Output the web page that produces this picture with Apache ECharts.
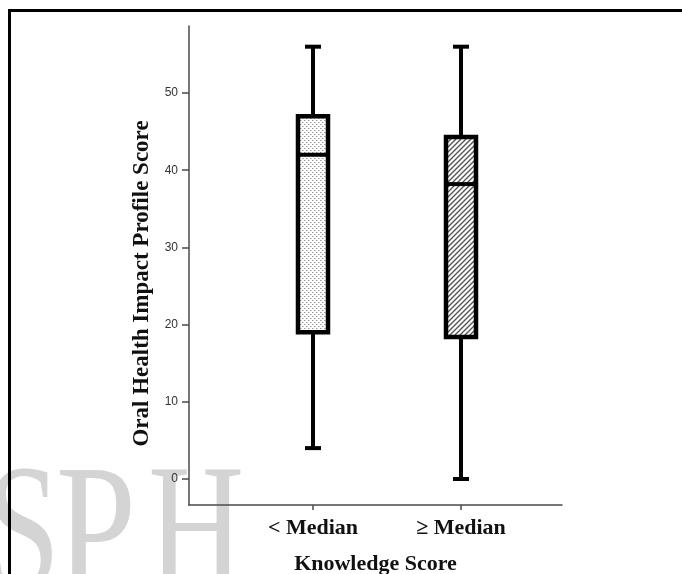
<!DOCTYPE html>
<html>
<head>
<meta charset="utf-8">
<script src="https://cdn.jsdelivr.net/npm/echarts@6/dist/echarts.min.js"></script>
<style>
  html, body { margin: 0; padding: 0; background: #fff; }
  #chart { width: 682px; height: 574px; }
</style>
</head>
<body>
<div id="chart"></div>
<script>
// data
var categories = ['< Median', '≥ Median'];
var mins    = [4, 0];
var q1s     = [19, 18.4];
var medians = [42, 38.2];
var q3s     = [47, 44.3];
var maxs    = [56, 56];
var yTicks  = [0, 10, 20, 30, 40, 50];

// fill patterns: dotted for the first box, hatched for the second
function dotPattern() {
    var c = document.createElement('canvas');
    c.width = 4; c.height = 4;
    var ctx = c.getContext('2d');
    ctx.fillStyle = '#fff';
    ctx.fillRect(0, 0, 4, 4);
    ctx.fillStyle = '#9a9a9a';
    ctx.fillRect(0, 0, 1, 1);
    ctx.fillRect(2, 2, 1, 1);
    ctx.fillStyle = '#cfcfcf';
    ctx.fillRect(1, 0, 1, 1);
    ctx.fillRect(3, 2, 1, 1);
    return c;
}
function hatchPattern() {
    var c = document.createElement('canvas');
    c.width = 5; c.height = 5;
    var ctx = c.getContext('2d');
    ctx.fillStyle = '#fff';
    ctx.fillRect(0, 0, 5, 5);
    ctx.strokeStyle = '#555';
    ctx.lineWidth = 1.4;
    ctx.beginPath();
    ctx.moveTo(-1, 6); ctx.lineTo(6, -1);
    ctx.moveTo(-1, 1); ctx.lineTo(1, -1);
    ctx.moveTo(4, 6); ctx.lineTo(6, 4);
    ctx.stroke();
    return c;
}
var fills = [
    {image: dotPattern(), repeat: 'repeat'},
    {image: hatchPattern(), repeat: 'repeat'}
];

var boxData = [];
categories.forEach(function(cat, i) {
    boxData.push([i + 1, mins[i], q1s[i], medians[i], q3s[i], maxs[i]]);
});

var serifBold = {fontFamily: 'Liberation Serif', fontWeight: 'bold', color: '#111'};
var wmFont = '180px "Liberation Serif"';

var chart = echarts.init(document.getElementById('chart'));
var option = {
    animation: false,
    backgroundColor: '#fff',
    grid: {left: 189, right: 120, top: 26, bottom: 69, outerBoundsMode: 'none', containLabel: false},
    graphic: [
        {type: 'rect', z: 100, silent: true,
         shape: {x: 9.5, y: 10.5, width: 800, height: 700},
         style: {fill: 'none', stroke: '#000', lineWidth: 3}},
        {type: 'text', z: -10, left: -14, top: 451, scaleX: 0.74,
         style: {text: 'S', font: wmFont, fill: '#d4d4d4'}},
        {type: 'text', z: -10, left: 56, top: 451, scaleX: 0.8,
         style: {text: 'P', font: wmFont, fill: '#d4d4d4'}},
        {type: 'text', z: -10, left: 148, top: 451, scaleX: 0.74,
         style: {text: 'H', font: wmFont, fill: '#d4d4d4'}}
    ],
    xAxis: {
        type: 'value',
        min: 0.1622,
        max: 2.6824,
        name: 'Knowledge Score',
        nameLocation: 'middle',
        nameGap: 48,
        nameTextStyle: Object.assign({fontSize: 22}, serifBold),
        axisLine: {onZero: false, lineStyle: {color: '#4a4a4a', width: 1.5}},
        axisTick: {show: true, length: 5, customValues: [1, 2], lineStyle: {color: '#4a4a4a', width: 1.5}},
        axisLabel: Object.assign({
            fontSize: 22, margin: 12, customValues: [1, 2],
            formatter: function(v) { return categories[Math.round(v) - 1] || ''; }
        }, serifBold),
        splitLine: {show: false}
    },
    yAxis: {
        type: 'value',
        min: -3.37,
        max: 58.68,
        name: 'Oral Health Impact Profile Score',
        nameLocation: 'middle',
        nameGap: 26,
        nameTextStyle: Object.assign({fontSize: 23, padding: [0, 36, 0, 0]}, serifBold),
        axisLine: {show: true, onZero: false, lineStyle: {color: '#4a4a4a', width: 1.5}},
        axisTick: {show: true, length: 7, customValues: yTicks, lineStyle: {color: '#4a4a4a', width: 1.5}},
        axisLabel: {fontSize: 12, color: '#333', margin: 11, fontFamily: 'Liberation Sans', customValues: yTicks},
        splitLine: {show: false}
    },
    series: [{
        type: 'custom',
        data: boxData,
        encode: {x: 0, y: [1, 2, 3, 4, 5]},
        renderItem: function(params, api) {
            var x = api.value(0);
            var pMin = api.coord([x, api.value(1)]);
            var pQ1 = api.coord([x, api.value(2)]);
            var pMed = api.coord([x, api.value(3)]);
            var pQ3 = api.coord([x, api.value(4)]);
            var pMax = api.coord([x, api.value(5)]);
            var cx = pMin[0];
            var half = 15, capHalf = 8;
            var line = {stroke: '#000', lineWidth: 4};
            return {
                type: 'group',
                children: [
                    {type: 'line', shape: {x1: cx, y1: pMax[1], x2: cx, y2: pQ3[1]}, style: line},
                    {type: 'line', shape: {x1: cx, y1: pQ1[1], x2: cx, y2: pMin[1]}, style: line},
                    {type: 'line', shape: {x1: cx - capHalf, y1: pMax[1], x2: cx + capHalf, y2: pMax[1]}, style: line},
                    {type: 'line', shape: {x1: cx - capHalf, y1: pMin[1], x2: cx + capHalf, y2: pMin[1]}, style: line},
                    {type: 'rect', shape: {x: cx - half, y: pQ3[1], width: half * 2, height: pQ1[1] - pQ3[1]},
                     style: {fill: fills[params.dataIndex], stroke: '#000', lineWidth: 4.5}},
                    {type: 'line', shape: {x1: cx - half, y1: pMed[1], x2: cx + half, y2: pMed[1]}, style: line}
                ]
            };
        }
    }]
};
chart.setOption(option);
</script>
</body>
</html>
